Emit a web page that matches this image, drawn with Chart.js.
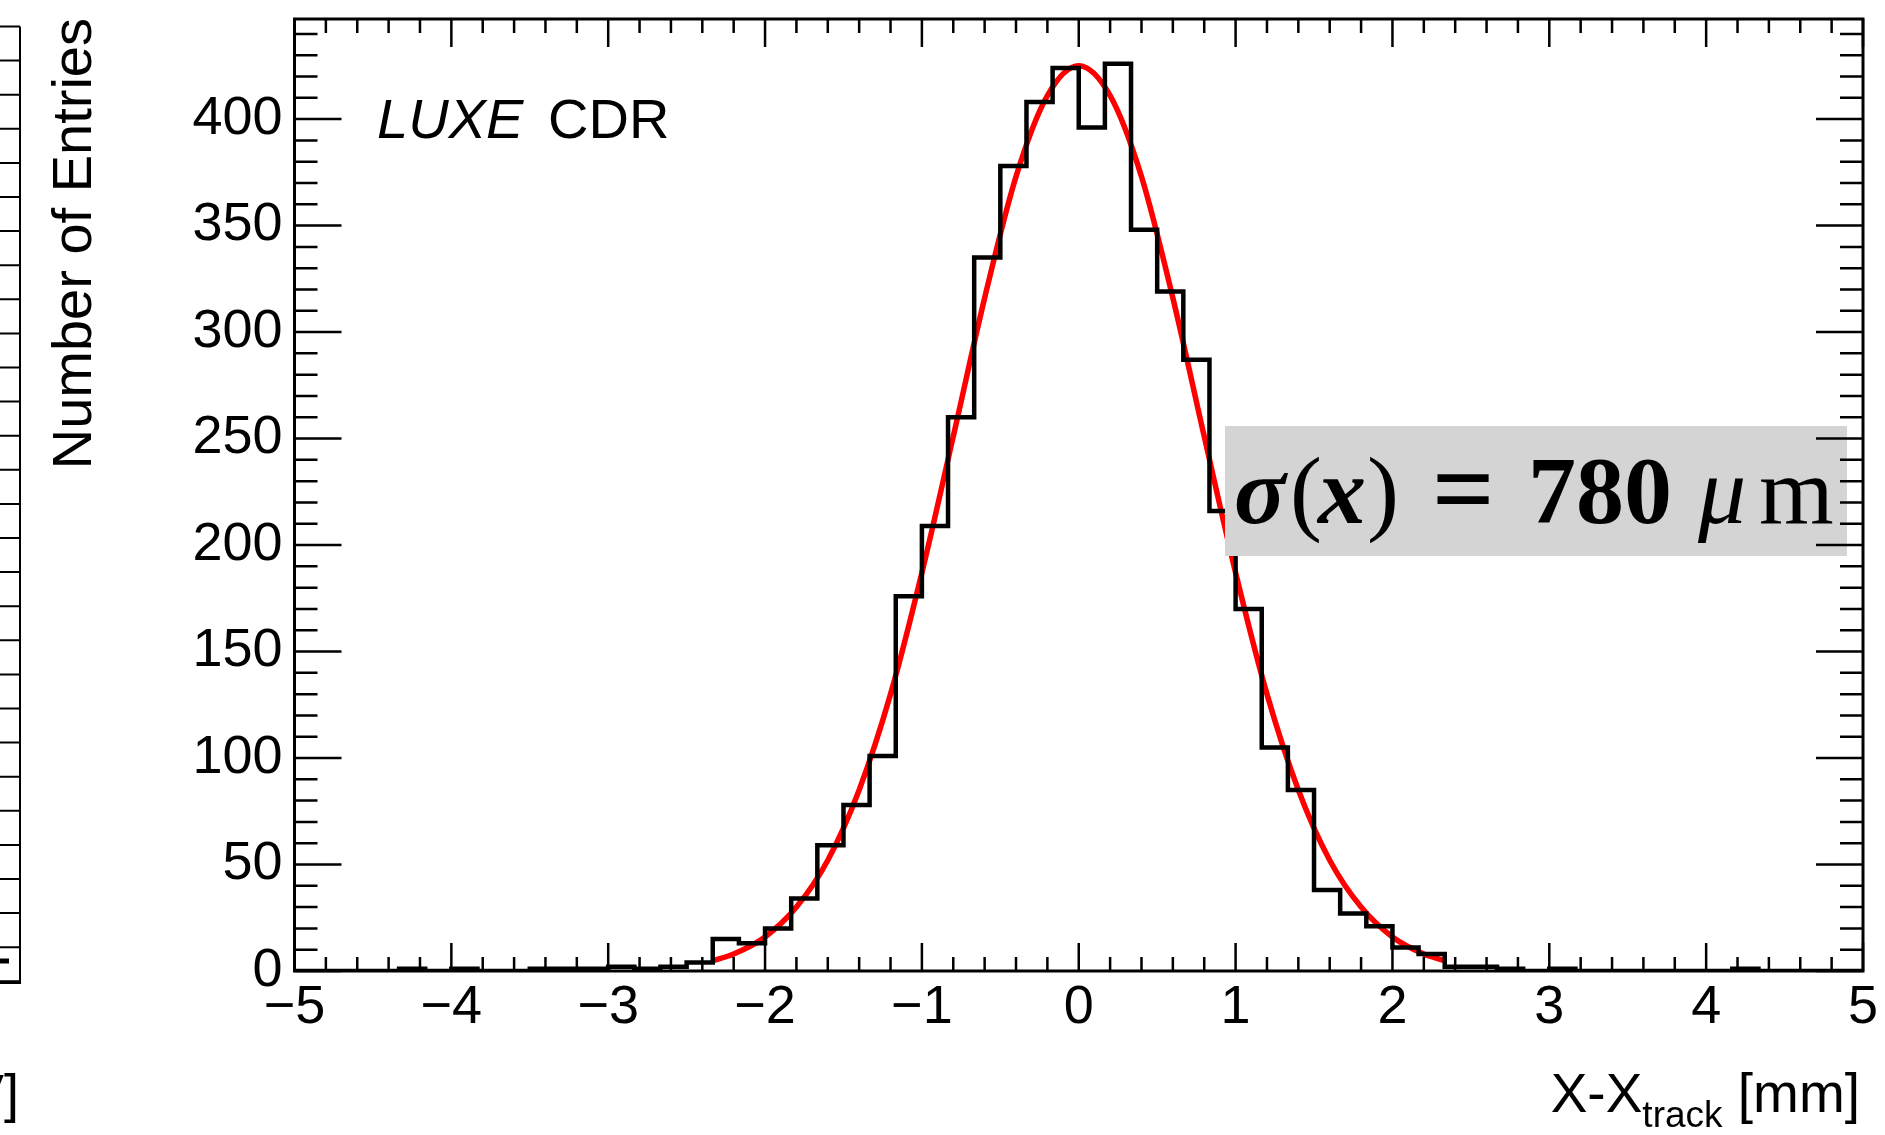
<!DOCTYPE html>
<html>
<head>
<meta charset="utf-8">
<script src="https://cdn.jsdelivr.net/npm/chart.js@4.4.0/dist/chart.umd.min.js"></script>
<style>
  html, body { margin: 0; padding: 0; background: #fff; }
  #wrap { width: 1885px; height: 1135px; }
</style>
</head>
<body>
<div id="wrap"><canvas id="c" width="1885" height="1135"></canvas></div>
<script>
// X - X_track residuals, 60 bins between -5 and 5 mm
const xMin = -5;
const xMax = 5;
const binCounts = [
  0, 0, 0, 0, 1, 0, 1, 0, 0, 1,
  1, 1, 2, 1, 2, 4, 15, 13, 20, 34,
  59, 78, 101, 176, 209, 260, 335, 378, 408, 424,
  396, 426, 348, 319, 287, 216, 170, 105, 85, 38,
  27, 21, 11, 8, 2, 2, 1, 0, 1, 0,
  0, 0, 0, 0, 0, 1, 0, 0, 0, 0
];

// gaussian fit curve
const fitX = [-2.34, -2.2, -2.0, -1.8, -1.6, -1.4, -1.2, -1.0, -0.8, -0.6, -0.4, -0.2, 0,
              0.2, 0.4, 0.6, 0.8, 1.0, 1.2, 1.4, 1.6, 1.8, 2.0, 2.2, 2.34];
const fitY = [4.7, 8, 16, 30, 52, 85, 130, 187, 251, 316, 373, 411, 425,
              411, 373, 316, 251, 187, 130, 85, 52, 30, 16, 8, 4.7];

const yMax = 447;
const xStep = 1;
const yStep = 50;

const SANS = '"Liberation Sans", Arial, Helvetica, sans-serif';
const SERIF = '"Liberation Serif", "Times New Roman", serif';

const binWidth = (xMax - xMin) / binCounts.length;
const histPoints = binCounts.map((c, i) => ({ x: xMin + i * binWidth, y: c }));
histPoints.push({ x: xMax, y: binCounts[binCounts.length - 1] });
const fitPoints = fitX.map((x, i) => ({ x: x, y: fitY[i] }));

function textRuns(ctx, runs, x, y) {
  // runs: [text, font, dy]
  runs.forEach(r => {
    ctx.font = r[1];
    ctx.fillText(r[0], x, y + (r[2] || 0));
    x += ctx.measureText(r[0]).width;
  });
  return x;
}
function runsWidth(ctx, runs) {
  let w = 0;
  runs.forEach(r => { ctx.font = r[1]; w += ctx.measureText(r[0]).width; });
  return w;
}

const rootFrame = {
  id: 'rootFrame',
  afterDatasetsDraw(chart) {
    const { ctx, chartArea: a, scales: { x, y } } = chart;
    ctx.save();

    // fit result box (TLatex pieces placed like the ROOT output)
    ctx.fillStyle = '#d4d4d4';
    ctx.fillRect(1225, 426, 622, 130);
    ctx.fillStyle = '#000';
    ctx.textBaseline = 'alphabetic';
    ctx.textAlign = 'left';
    const base = 523;
    const pieces = [
      ['\u03c3', 'italic bold 96px ' + SERIF, 1234, 0],
      ['(', '96px ' + SERIF, 1290, 0],
      ['x', 'italic bold 96px ' + SERIF, 1318, 0],
      [')', '96px ' + SERIF, 1367, 0],
      ['=', 'bold 110px ' + SERIF, 1432, 3],
      ['780', 'bold 96px ' + SERIF, 1528, 0],
      ['\u03bc', 'italic 96px ' + SERIF, 1698, 0],
      ['m', '96px ' + SERIF, 1759, 0]
    ];
    pieces.forEach(p => { ctx.font = p[1]; ctx.fillText(p[0], p[2], base + p[3]); });

    // frame
    ctx.strokeStyle = '#000';
    ctx.lineWidth = 3;
    ctx.strokeRect(a.left, a.top, a.right - a.left, a.bottom - a.top);

    // x ticks, bottom and top
    ctx.lineWidth = 2.5;
    ctx.beginPath();
    const nx = Math.round((xMax - xMin) / 0.2);
    for (let i = 0; i <= nx; i++) {
      const px = x.getPixelForValue(xMin + i * 0.2);
      const len = i % 5 === 0 ? 28 : 14;
      ctx.moveTo(px, a.bottom); ctx.lineTo(px, a.bottom - len);
      ctx.moveTo(px, a.top); ctx.lineTo(px, a.top + len);
    }
    // y ticks, left and right
    for (let v = 0; v <= yMax; v += 10) {
      const py = y.getPixelForValue(v);
      const len = v % 50 === 0 ? 47 : 23;
      ctx.moveTo(a.left, py); ctx.lineTo(a.left + len, py);
      ctx.moveTo(a.right, py); ctx.lineTo(a.right - len, py);
    }
    ctx.stroke();

    // LUXE CDR
    ctx.font = 'italic 56px ' + SANS;
    ctx.fillText('LUXE', 377, 138);
    ctx.font = '56px ' + SANS;
    ctx.fillText('CDR', 548, 138);

    // y title
    ctx.save();
    ctx.translate(91, 18);
    ctx.rotate(-Math.PI / 2);
    ctx.textAlign = 'right';
    ctx.font = '56px ' + SANS;
    ctx.fillText('Number of Entries', 0, 0);
    ctx.restore();

    // x title with subscript
    const xtRuns = [
      ['X-X', '55px ' + SANS, 0],
      ['track', '37px ' + SANS, 15],
      [' [mm]', '55px ' + SANS, 0]
    ];
    const xw = runsWidth(ctx, xtRuns);
    textRuns(ctx, xtRuns, 1860 - xw, 1112);

    // edge of the neighbouring panel
    ctx.lineWidth = 2;
    ctx.beginPath();
    ctx.moveTo(20, 26.5); ctx.lineTo(20, 983); ctx.lineTo(0, 983);
    for (let k = 0; k <= 28; k++) {
      const yy = 26.5 + k * 34.1;
      ctx.moveTo(0, yy); ctx.lineTo(20, yy);
    }
    ctx.stroke();
    ctx.lineWidth = 5;
    ctx.beginPath();
    ctx.moveTo(0, 961); ctx.lineTo(9, 961);
    ctx.stroke();
    ctx.textAlign = 'right';
    ctx.font = '54px ' + SANS;
    ctx.fillText('[GeV]', 19, 1112);

    ctx.restore();
  }
};

new Chart(document.getElementById('c'), {
  type: 'line',
  data: {
    datasets: [
      {
        label: 'hist',
        data: histPoints,
        stepped: true,
        borderColor: '#000',
        borderWidth: 4.5,
        pointRadius: 0,
        fill: false
      },
      {
        label: 'fit',
        data: fitPoints,
        cubicInterpolationMode: 'monotone',
        borderColor: '#ff0000',
        borderWidth: 5.5,
        pointRadius: 0,
        fill: false
      }
    ]
  },
  options: {
    responsive: false,
    animation: false,
    devicePixelRatio: 1,
    layout: { padding: { left: 0, top: 19, right: 22, bottom: 0 } },
    plugins: { legend: { display: false }, tooltip: { enabled: false } },
    scales: {
      x: {
        type: 'linear',
        min: xMin,
        max: xMax,
        grid: { display: false, drawTicks: false },
        border: { display: false },
        ticks: {
          stepSize: xStep,
          autoSkip: false,
          maxRotation: 0,
          includeBounds: false,
          padding: 5,
          color: '#000',
          font: { family: SANS, size: 54 },
          callback: v => String(v).replace('-', '\u2212')
        },
        afterFit: s => { s.height = 164; s.paddingLeft = 0; s.paddingRight = 0; }
      },
      y: {
        type: 'linear',
        min: 0,
        max: yMax,
        grid: { display: false, drawTicks: false },
        border: { display: false },
        ticks: {
          stepSize: yStep,
          autoSkip: false,
          includeBounds: false,
          padding: 12,
          color: '#000',
          font: { family: SANS, size: 54 }
        },
        afterFit: s => { s.width = 294.5; s.paddingTop = 0; s.paddingBottom = 0; }
      }
    }
  },
  plugins: [rootFrame]
});
</script>
</body>
</html>
